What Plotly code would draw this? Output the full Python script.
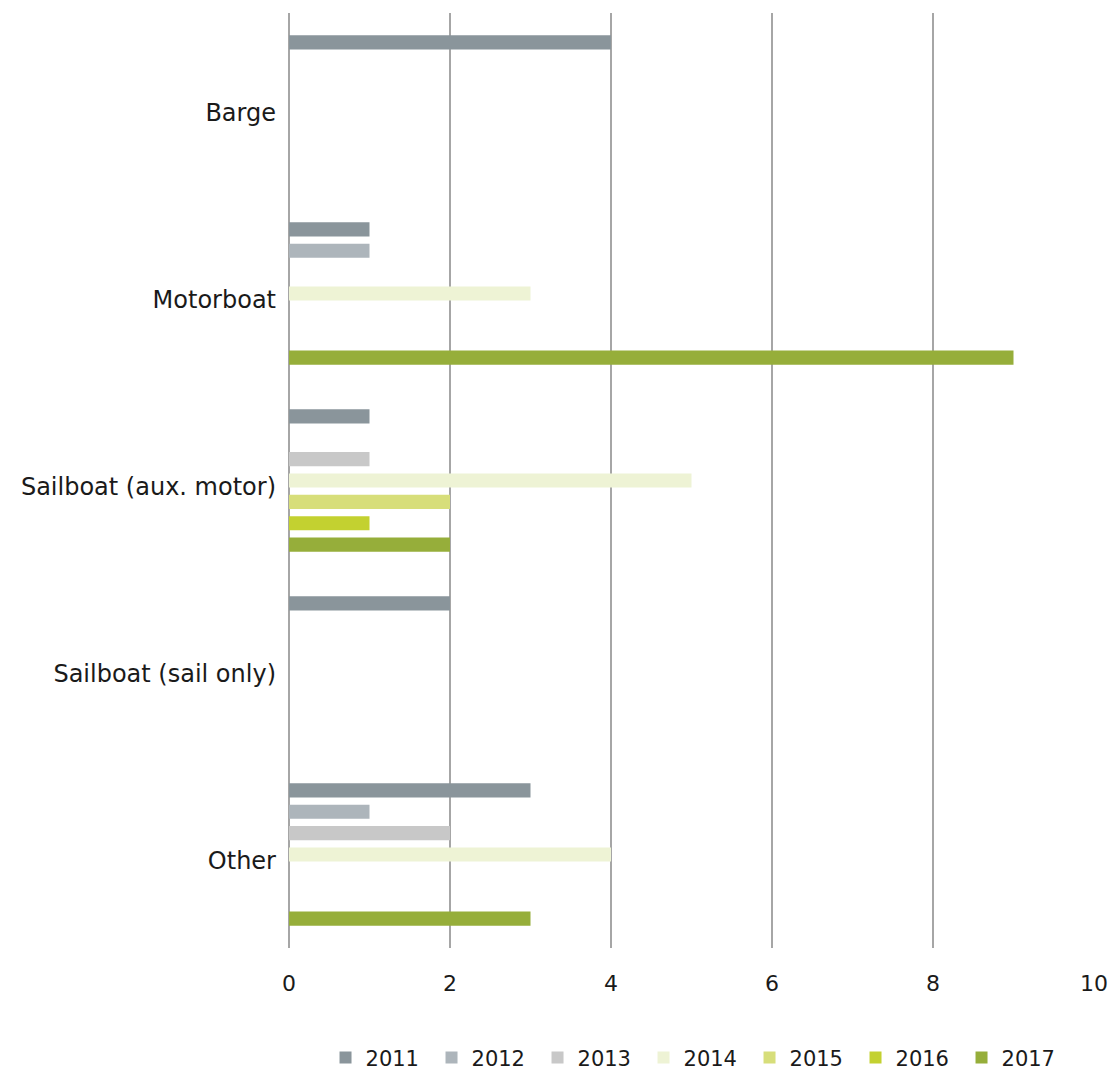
import plotly.graph_objects as go

categories = ["Barge", "Motorboat", "Sailboat (aux. motor)", "Sailboat (sail only)", "Other"]
years = ["2011", "2012", "2013", "2014", "2015", "2016", "2017"]

v2011 = [4, 1, 1, 2, 3]
v2012 = [0, 1, 0, 0, 1]
v2013 = [0, 0, 1, 0, 2]
v2014 = [0, 3, 5, 0, 4]
v2015 = [0, 0, 2, 0, 0]
v2016 = [0, 0, 1, 0, 0]
v2017 = [0, 9, 2, 0, 3]

series = [v2011, v2012, v2013, v2014, v2015, v2016, v2017]
colors = ["#8a959b", "#adb5bb", "#c8c8c8", "#eef3d5", "#d7de7a", "#c3d130", "#96ae3a"]

fig = go.Figure()
for name, vals, col in zip(years, series, colors):
    fig.add_trace(go.Bar(
        y=categories, x=vals, name=name, orientation="h",
        marker=dict(color=col, line=dict(width=0)),
    ))

fig.update_layout(
    width=1111, height=1075,
    margin=dict(l=289, r=17, t=13, b=127),
    paper_bgcolor="white", plot_bgcolor="white",
    barmode="group", bargap=0.2, bargroupgap=0.34,
    font=dict(family="DejaVu Sans", size=24, color="#1a1a1a"),
    xaxis=dict(
        range=[0, 10], dtick=2, showgrid=True, gridcolor="#a6a6a6", gridwidth=2,
        zeroline=True, zerolinecolor="#a6a6a6", zerolinewidth=2,
        showline=False, ticks="", ticklabelstandoff=20, automargin=False,
        tickfont=dict(size=22),
    ),
    yaxis=dict(
        autorange="reversed", showgrid=False, showline=False, ticks="",
        ticklabelstandoff=12, ticklabelshift=-6, automargin=False,
        tickfont=dict(size=24),
    ),
    legend=dict(
        orientation="h", xref="container", yref="container",
        x=0.293, xanchor="left", y=0.016, yanchor="middle",
        font=dict(size=21), itemwidth=30, entrywidth=61, entrywidthmode="pixels",
    ),
)

fig.write_html("out.html")
